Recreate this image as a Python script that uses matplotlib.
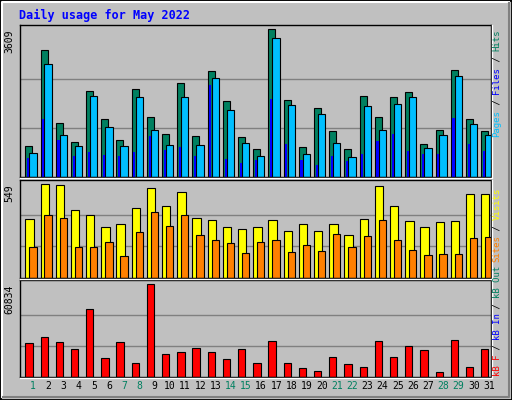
"""Webalizer style daily usage chart for May 2022"""

import matplotlib.pyplot as plt
from matplotlib.patches import Rectangle

days = list(range(1, 32))
weekend_days = [1, 7, 8, 14, 15, 21, 22, 28, 29]

hits = [751, 3095, 1331, 866, 2098, 1413, 914, 2147, 1478, 1061, 2286, 996, 2588, 1845, 972, 694,
        3609, 1878, 727, 1682, 1119, 678, 1968, 1478, 1943, 2066, 817, 1159, 2605, 1413, 1135]
files = [596, 2752, 1037, 751, 1968, 1233, 768, 1943, 1159, 792, 1943, 792, 2409, 1625, 841, 523,
         3389, 1747, 572, 1527, 841, 498, 1723, 1159, 1772, 1943, 719, 1037, 2458, 1306, 1037]
pages = [474, 1429, 914, 506, 621, 547, 523, 621, 1012, 670, 743, 523, 2237, 449, 351, 425,
         1894, 817, 425, 302, 523, 400, 572, 890, 1061, 645, 572, 572, 1453, 817, 645]
visits = [347, 549, 543, 400, 371, 299, 317, 412, 525, 424, 507, 353, 341, 299, 287, 299,
          341, 275, 317, 275, 317, 252, 347, 537, 424, 335, 299, 329, 335, 490, 490]
sites = [180, 371, 353, 180, 180, 210, 127, 270, 388, 305, 371, 252, 222, 204, 145, 210,
         222, 151, 192, 157, 258, 180, 246, 341, 222, 163, 133, 139, 139, 234, 240]
kbytes = [22202, 26199, 22868, 18206, 44848, 12211, 22868, 8881, 60834, 14875, 16208, 18872,
          16208, 11545, 18206, 8881, 23534, 8881, 6217, 4218, 12877, 8215, 6883, 23534, 12877,
          20204, 17540, 3552, 24200, 6883, 18206]

W, H = 512, 400
GREY = '#C0C0C0'
MONO = 'DejaVu Sans Mono'

fig = plt.figure(figsize=(W / 100, H / 100), dpi=100, facecolor=GREY)

# outer bevel frame
fig.patches.append(Rectangle((0, 0), 1, 1, transform=fig.transFigure, fill=False,
                             edgecolor='black', linewidth=2))
fig.add_artist(plt.Line2D([2 / W, 2 / W, 1 - 3 / W], [3 / H, 1 - 2 / H, 1 - 2 / H],
                          transform=fig.transFigure, color='white', lw=1.5))
fig.add_artist(plt.Line2D([3 / W, 1 - 3 / W, 1 - 3 / W], [3 / H, 3 / H, 1 - 3 / H],
                          transform=fig.transFigure, color='#808080', lw=1.5))


def panel(y0, y1):
    ax = fig.add_axes([20 / W, 1 - y1 / H, 471 / W, (y1 - y0) / H])
    ax.set_facecolor(GREY)
    ax.set_xlim(0, 31)
    for s in ax.spines.values():
        s.set_color('black')
        s.set_linewidth(1)
    ax.set_xticks([])
    ax.set_yticks([])
    # white bevel on the right and bottom
    fig.add_artist(plt.Line2D([20 / W, 492 / W, 492 / W], [1 - (y1 + 1) / H, 1 - (y1 + 1) / H, 1 - y0 / H],
                              transform=fig.transFigure, color='white', lw=1))
    return ax


def grid(ax, top):
    for f in (1 / 3, 2 / 3):
        ax.axhline(top * f, color='#808080', lw=1, zorder=0)


x = [d - 1 for d in days]

# hits / files / pages
ax1 = panel(25, 177)
ax1.set_ylim(0, max(hits) * 1.029)
grid(ax1, max(hits))
ax1.bar([i + 0.35 for i in x], hits, 0.46, align='edge', color='#008060', edgecolor='black', lw=0.8)
ax1.bar([i + 0.61 for i in x], files, 0.48, align='edge', color='#00BFFF', edgecolor='black', lw=0.8)
ax1.bar([i + 0.46 for i in x], pages, 0.14, align='edge', color='#0000FF', lw=0)

# visits / sites
ax2 = panel(180, 277.5)
ax2.set_ylim(0, max(visits) * 1.047)
grid(ax2, max(visits))
ax2.bar([i + 0.35 for i in x], visits, 0.55, align='edge', color='#FFFF00', edgecolor='black', lw=0.8)
ax2.bar([i + 0.61 for i in x], sites, 0.48, align='edge', color='#FF8000', edgecolor='black', lw=0.8)

# kbytes
ax3 = panel(280, 377)
ax3.set_ylim(0, max(kbytes) * 1.047)
grid(ax3, max(kbytes))
ax3.bar([i + 0.35 for i in x], kbytes, 0.48, align='edge', color='#FF0000', edgecolor='black', lw=0.8)

for d in days:
    col = '#008060' if d in weekend_days else 'black'
    ax3.text(d - 1 + 0.87, -0.09, str(d), transform=ax3.get_xaxis_transform(), ha='center',
             va='center', fontsize=7, color=col, family=MONO)

fig.text(19 / W, 1 - 15 / H, 'Daily usage for May 2022', color='#0000FF', fontsize=8.5,
         fontweight='bold', family=MONO, va='center')

for ax, top, label in ((ax1, max(hits), '3609'), (ax2, max(visits), '549'), (ax3, max(kbytes), '60834')):
    ax.text(-0.013, top, label, transform=ax.get_yaxis_transform(), rotation=90, ha='right',
            va='top', fontsize=7, family=MONO)


def side_label(parts, y_bottom, step):
    pos = y_bottom
    for txt, col in parts:
        fig.text(497 / W, 1 - pos / H, txt, rotation=90, color=col, fontsize=6.5, family=MONO,
                 ha='center', va='bottom')
        pos -= step * len(txt)


side_label([('Pages', '#00BFFF'), (' / ', 'black'), ('Files', '#0000FF'), (' / ', 'black'),
            ('Hits', '#008060')], 137, 5.4)
side_label([('kB F', '#FF0000'), (' / ', 'black'), ('kB In', '#0000FF'), (' / ', 'black'),
            ('kB Out', '#008060'), (' ', 'black'), ('Sites', '#FF8000'), (' / ', 'black'),
            ('Visits', '#FFFF00')], 376, 5.2)

fig.savefig('out.png', dpi=100, facecolor=GREY)
